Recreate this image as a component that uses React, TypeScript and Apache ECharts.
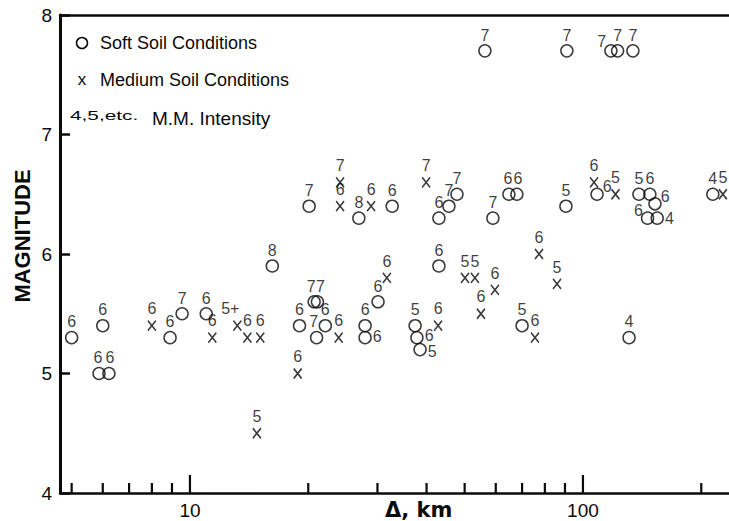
import React, { useEffect, useRef } from "react";
import * as echarts from "echarts";

// Soft soil conditions (circles): epicentral distance (km), magnitude, M.M. intensity
const softDist = [5.0, 6.0, 5.87, 6.22, 8.9, 9.55, 11.0, 16.2, 19.0, 20.1, 20.7, 21.1, 21.0, 22.1, 26.9, 27.9, 27.9, 30.1, 32.7, 37.4, 37.8, 38.5, 43.0, 43.0, 45.6, 47.8, 56.3, 59.0, 64.8, 67.9, 70.0, 90.5, 91.0, 108.6, 117.8, 122.5, 134.0, 131.0, 138.8, 148.0, 152.5, 146.0, 154.5, 214.0];
const softMag = [5.3, 5.4, 5.0, 5.0, 5.3, 5.5, 5.5, 5.9, 5.4, 6.4, 5.6, 5.6, 5.3, 5.4, 6.3, 5.4, 5.3, 5.6, 6.4, 5.4, 5.3, 5.2, 6.3, 5.9, 6.4, 6.5, 7.7, 6.3, 6.5, 6.5, 5.4, 6.4, 7.7, 6.5, 7.7, 7.7, 7.7, 5.3, 6.5, 6.5, 6.42, 6.3, 6.3, 6.5];
const softMMI = ["6", "6", "6", "6", "6", "7", "6", "8", "6", "7", "7", "7", "7", "6", "8", "6", "6", "6", "6", "5", "6", "5", "6", "6", "7", "7", "7", "7", "6", "6", "5", "5", "7", "6", "7", "7", "7", "4", "5", "6", "6", "6", "4", "4"];

// Medium soil conditions (crosses)
const mediumDist = [8.0, 11.4, 13.2, 14.0, 15.1, 14.8, 18.8, 23.9, 24.1, 24.1, 28.9, 31.7, 39.9, 42.8, 50.1, 53.1, 55.0, 59.7, 75.5, 77.3, 85.9, 106.7, 121.0, 227.0];
const mediumMag = [5.4, 5.3, 5.4, 5.3, 5.3, 4.5, 5.0, 5.3, 6.6, 6.4, 6.4, 5.8, 6.6, 5.4, 5.8, 5.8, 5.5, 5.7, 5.3, 6.0, 5.75, 6.6, 6.5, 6.5];
const mediumMMI = ["6", "6", "5+", "6", "6", "5", "6", "6", "7", "6", "6", "6", "7", "6", "5", "5", "6", "6", "6", "6", "5", "6", "5", "5"];

// Axis ticks and labels
const xMajorTicks = [10, 100];
const xMinorTicks = [5, 6, 7, 8, 9, 20, 30, 40, 50, 60, 70, 80, 90, 200];
const yTicks = [4, 5, 6, 7, 8];
const xTitle = "\u0394, km";
const yTitle = "MAGNITUDE";
const legendSoft = "Soft Soil Conditions";
const legendMedium = "Medium Soil Conditions";
const legendIntensityKey = "4,5,etc.";
const legendIntensity = "M.M. Intensity";

// label placement overrides (styling, by point index)
const softLabelPlacement: Record<number, any> = {
  2: { offset: [-1, 0] },
  3: { offset: [1, 0] },
  10: { offset: [-3, 0] },
  11: { offset: [3, 0] },
  12: { position: "top", offset: [-3, 0] },
  16: { position: "right", distance: 1, offset: [0, -1] },
  20: { position: "right", distance: 1, offset: [0, -2] },
  21: { position: "right", distance: 1, offset: [0, 2] },
  28: { offset: [-1, 0] },
  29: { offset: [1, 0] },
  33: { position: "right", distance: 0, offset: [-1, -8] },
  34: { position: "left", distance: -2, offset: [0, -9] },
  40: { position: "right", distance: 0, offset: [-1, -7] },
  41: { position: "left", distance: 0, offset: [2, -8] },
  42: { position: "right", distance: 1 },
};
const mediumLabelPlacement: Record<number, any> = {
  2: { position: "top", offset: [-7, 0] },
};

const INK = "#0a0a0a";
const FONT = "'Liberation Sans', Arial, sans-serif";

export default function App() {
  const ref = useRef<HTMLDivElement>(null);
  useEffect(() => {
    if (!ref.current) return;
    const chart = echarts.init(ref.current, null, { renderer: "svg" });
    const xMin = 4.67;
    const xMax = 235.3;

    const labelBase = {
      show: true,
      position: "top",
      distance: 1,
      color: INK,
      fontSize: 16,
      fontFamily: FONT,
    };

    const softData = softDist.map((d, i) => ({
      name: softMMI[i],
      value: [d, softMag[i]],
      label: softLabelPlacement[i] ? { ...softLabelPlacement[i] } : undefined,
    }));
    const mediumData = mediumDist.map((d, i) => ({
      name: mediumMMI[i],
      value: [d, mediumMag[i]],
      label: mediumLabelPlacement[i] ? { ...mediumLabelPlacement[i] } : undefined,
    }));

    const tickSeries = (vals: number[], len: number) => ({
      type: "custom",
      silent: true,
      data: vals.map((v) => [v, yTicks[0]]),
      renderItem: (params: any, api: any) => {
        const p = api.coord([api.value(0), api.value(1)]);
        return {
          type: "line",
          shape: { x1: p[0], y1: p[1], x2: p[0], y2: p[1] - len },
          style: { stroke: INK, lineWidth: 2.2 },
        };
      },
      z: 5,
    });

    const isDecade = (v: number) => {
      const l = Math.log10(v);
      return Math.abs(l - Math.round(l)) < 1e-6;
    };

    chart.setOption({
      animation: false,
      backgroundColor: "#ffffff",
      grid: { left: 60, right: 0, top: 15, bottom: 28 },
      xAxis: [
        {
          type: "log",
          logBase: 10,
          min: xMin,
          max: xMax,
          axisLine: { lineStyle: { color: INK, width: 2.5 } },
          axisTick: { show: false },
          splitLine: { show: false },
          minorTick: { show: false },
          axisLabel: {
            showMinLabel: false,
            showMaxLabel: false,
            color: INK,
            fontSize: 19,
            fontFamily: FONT,
            margin: 8,
            formatter: (v: number) =>
              isDecade(v) && xMajorTicks.indexOf(Math.round(v)) >= 0 ? String(Math.round(v)) : "",
          },
        },
        {
          type: "log",
          logBase: 10,
          min: xMin,
          max: xMax,
          position: "top",
          axisLine: { show: true, lineStyle: { color: INK, width: 2.5 } },
          axisTick: { show: false },
          axisLabel: { show: false },
          splitLine: { show: false },
        },
      ],
      yAxis: {
        type: "value",
        min: yTicks[0],
        max: yTicks[yTicks.length - 1],
        interval: 1,
        axisLine: { show: true, lineStyle: { color: INK, width: 3 } },
        axisTick: { show: true, inside: true, length: 10, lineStyle: { color: INK, width: 2.5 } },
        splitLine: { show: false },
        axisLabel: { color: INK, fontSize: 19, fontFamily: FONT, margin: 8 },
      },
      graphic: [
        {
          type: "text",
          x: 22,
          y: 236,
          rotation: Math.PI / 2,
          style: {
            text: yTitle,
            align: "center",
            verticalAlign: "middle",
            fill: INK,
            font: "bold 22px 'Liberation Sans', Arial, sans-serif",
          },
        },
        {
          type: "text",
          x: 385,
          y: 510,
          style: {
            text: xTitle,
            align: "left",
            verticalAlign: "middle",
            fill: INK,
            font: "bold 21px 'DejaVu Sans', 'Liberation Sans', sans-serif",
          },
        },
        {
          type: "circle",
          shape: { cx: 82, cy: 43, r: 5.5 },
          style: { fill: "none", stroke: INK, lineWidth: 1.5 },
        },
        {
          type: "text",
          x: 100,
          y: 43,
          style: { text: legendSoft, verticalAlign: "middle", fill: INK, font: "18px 'Liberation Sans', Arial, sans-serif" },
        },
        {
          type: "text",
          x: 82,
          y: 79,
          style: { text: "x", align: "center", verticalAlign: "middle", fill: INK, font: "17px 'Liberation Sans', Arial, sans-serif" },
        },
        {
          type: "text",
          x: 100,
          y: 80,
          style: { text: legendMedium, verticalAlign: "middle", fill: INK, font: "18px 'Liberation Sans', Arial, sans-serif" },
        },
        {
          type: "text",
          x: 70,
          y: 116,
          scaleX: 1.6,
          style: { text: legendIntensityKey, verticalAlign: "middle", fill: INK, font: "13px 'Liberation Sans', Arial, sans-serif" },
        },
        {
          type: "text",
          x: 152,
          y: 118,
          style: { text: legendIntensity, verticalAlign: "middle", fill: INK, font: "19px 'Liberation Sans', Arial, sans-serif" },
        },
      ],
      series: [
        tickSeries(xMinorTicks, 10),
        tickSeries(xMajorTicks, 18),
        {
          name: legendSoft,
          type: "scatter",
          symbol: "circle",
          symbolSize: 12,
          itemStyle: { color: "rgba(0,0,0,0)", borderColor: INK, borderWidth: 1.5 },
          label: { ...labelBase, formatter: "{b}" },
          data: softData,
          z: 10,
        },
        {
          name: legendMedium,
          type: "scatter",
          symbol: "path://M0,0L10,12M10,0L0,12",
          symbolSize: [8, 10],
          itemStyle: { color: "none", borderColor: INK, borderWidth: 1.6 },
          label: { ...labelBase, formatter: "{b}" },
          data: mediumData,
          z: 10,
        },
      ],
    });
    return () => chart.dispose();
  }, []);
  return (
    <div
      ref={ref}
      style={{ position: "absolute", left: 0, top: 0, width: 729, height: 521, background: "#fff" }}
    />
  );
}
